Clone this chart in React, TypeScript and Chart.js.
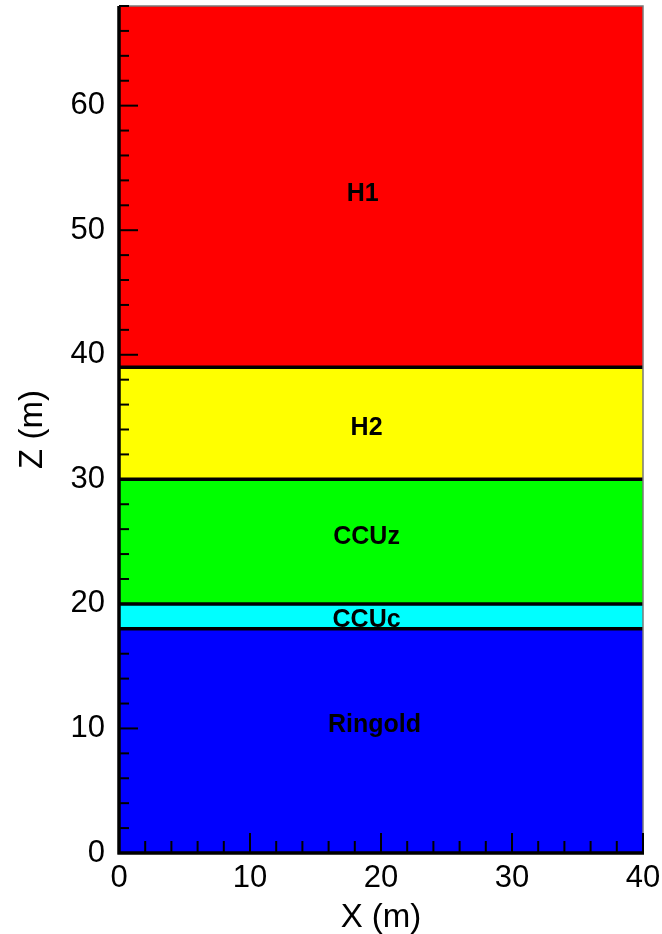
import React, { useEffect, useRef } from "react";
import { Chart, registerables } from "chart.js";

Chart.register(...registerables);

// Layer data (bottom to top)
const layerNames = ["Ringold", "CCUc", "CCUz", "H2", "H1"];
const layerTops = [18, 20, 30, 39, 68];
const layerColors = ["#0000ff", "#00ffff", "#00ff00", "#ffff00", "#ff0000"];
const labelX = [19.5, 18.9, 18.9, 18.9, 18.6];
const labelY = [10.4, 18.9, 25.5, 34.3, 53.1];

const xMin = 0;
const xMax = 40;
const yMin = 0;
const yMax = 68;
const majorStep = 10;
const minorStep = 2;

const FONT = "'Liberation Sans', Arial, Helvetica, sans-serif";

const decorPlugin = {
  id: "decor",
  afterDatasetsDraw(chart: any) {
    const { ctx, chartArea, scales } = chart;
    const { left, right, top, bottom } = chartArea;
    const xs = scales.x;
    const ys = scales.y;
    ctx.save();

    // layer labels
    ctx.fillStyle = "#000";
    ctx.font = `bold 25px ${FONT}`;
    ctx.textAlign = "center";
    ctx.textBaseline = "alphabetic";
    layerNames.forEach((n, i) => {
      ctx.fillText(n, xs.getPixelForValue(labelX[i]), ys.getPixelForValue(labelY[i]) + 9);
    });

    // thin frame top / right
    ctx.strokeStyle = "#7a7a7a";
    ctx.lineWidth = 1.5;
    ctx.beginPath();
    ctx.moveTo(left, top);
    ctx.lineTo(right, top);
    ctx.lineTo(right, bottom);
    ctx.stroke();

    // inward ticks
    ctx.strokeStyle = "#000";
    ctx.lineWidth = 2;
    for (let v = yMin; v <= yMax; v += minorStep) {
      const p = ys.getPixelForValue(v);
      const len = v % majorStep === 0 ? 19 : 10;
      ctx.beginPath();
      ctx.moveTo(left, p);
      ctx.lineTo(left + len, p);
      ctx.stroke();
    }
    for (let v = xMin; v <= xMax; v += minorStep) {
      const p = xs.getPixelForValue(v);
      const len = v % majorStep === 0 ? 20 : 12;
      ctx.beginPath();
      ctx.moveTo(p, bottom);
      ctx.lineTo(p, bottom - len);
      ctx.stroke();
    }

    // thick axis lines
    ctx.lineWidth = 3.5;
    ctx.beginPath();
    ctx.moveTo(left, top);
    ctx.lineTo(left, bottom + 1.5);
    ctx.moveTo(left - 1.5, bottom);
    ctx.lineTo(right + 1, bottom);
    ctx.stroke();

    // axis titles
    ctx.fillStyle = "#000";
    ctx.font = `33px ${FONT}`;
    ctx.textAlign = "center";
    ctx.textBaseline = "alphabetic";
    ctx.fillText("X (m)", (left + right) / 2, 927);
    ctx.save();
    ctx.translate(42, (top + bottom) / 2);
    ctx.rotate(-Math.PI / 2);
    ctx.fillText("Z (m)", 0, 0);
    ctx.restore();

    ctx.restore();
  },
};

export default function App() {
  const ref = useRef<HTMLCanvasElement | null>(null);

  useEffect(() => {
    if (!ref.current) return;
    const datasets = layerNames.map((name, i) => ({
      label: name,
      data: [
        { x: xMin, y: layerTops[i] },
        { x: xMax, y: layerTops[i] },
      ],
      backgroundColor: layerColors[i],
      borderColor: "#000",
      borderWidth: i === layerNames.length - 1 ? 0 : 3.5,
      pointRadius: 0,
      fill: i === 0 ? "origin" : "-1",
      tension: 0,
    }));

    const zeroPad = (s: any) => {
      s.paddingTop = 0;
      s.paddingBottom = 0;
      s.paddingLeft = 0;
      s.paddingRight = 0;
    };

    const chart = new Chart(ref.current, {
      type: "line",
      data: { datasets },
      options: {
        animation: false,
        responsive: true,
        maintainAspectRatio: false,
        layout: { padding: { top: 6, right: 19, left: 0, bottom: 0 } },
        plugins: {
          legend: { display: false },
          tooltip: { enabled: false },
        },
        scales: {
          x: {
            type: "linear",
            min: xMin,
            max: xMax,
            grid: { display: false, drawTicks: false },
            border: { display: false },
            ticks: {
              stepSize: majorStep,
              includeBounds: false,
              color: "#000",
              font: { family: FONT, size: 31 },
              padding: 7,
              maxRotation: 0,
              autoSkip: false,
            },
            afterFit: (s: any) => {
              s.height = 81;
              zeroPad(s);
            },
          },
          y: {
            type: "linear",
            min: yMin,
            max: yMax,
            grid: { display: false, drawTicks: false },
            border: { display: false },
            ticks: {
              stepSize: majorStep,
              includeBounds: false,
              color: "#000",
              font: { family: FONT, size: 31 },
              padding: 14,
              autoSkip: false,
            },
            afterFit: (s: any) => {
              s.width = 119;
              zeroPad(s);
            },
          },
        },
      },
      plugins: [decorPlugin],
    });
    return () => chart.destroy();
  }, []);

  return (
    <div style={{ position: "absolute", left: 0, top: 0, width: 662, height: 934, background: "#fff" }}>
      <canvas ref={ref} />
    </div>
  );
}
